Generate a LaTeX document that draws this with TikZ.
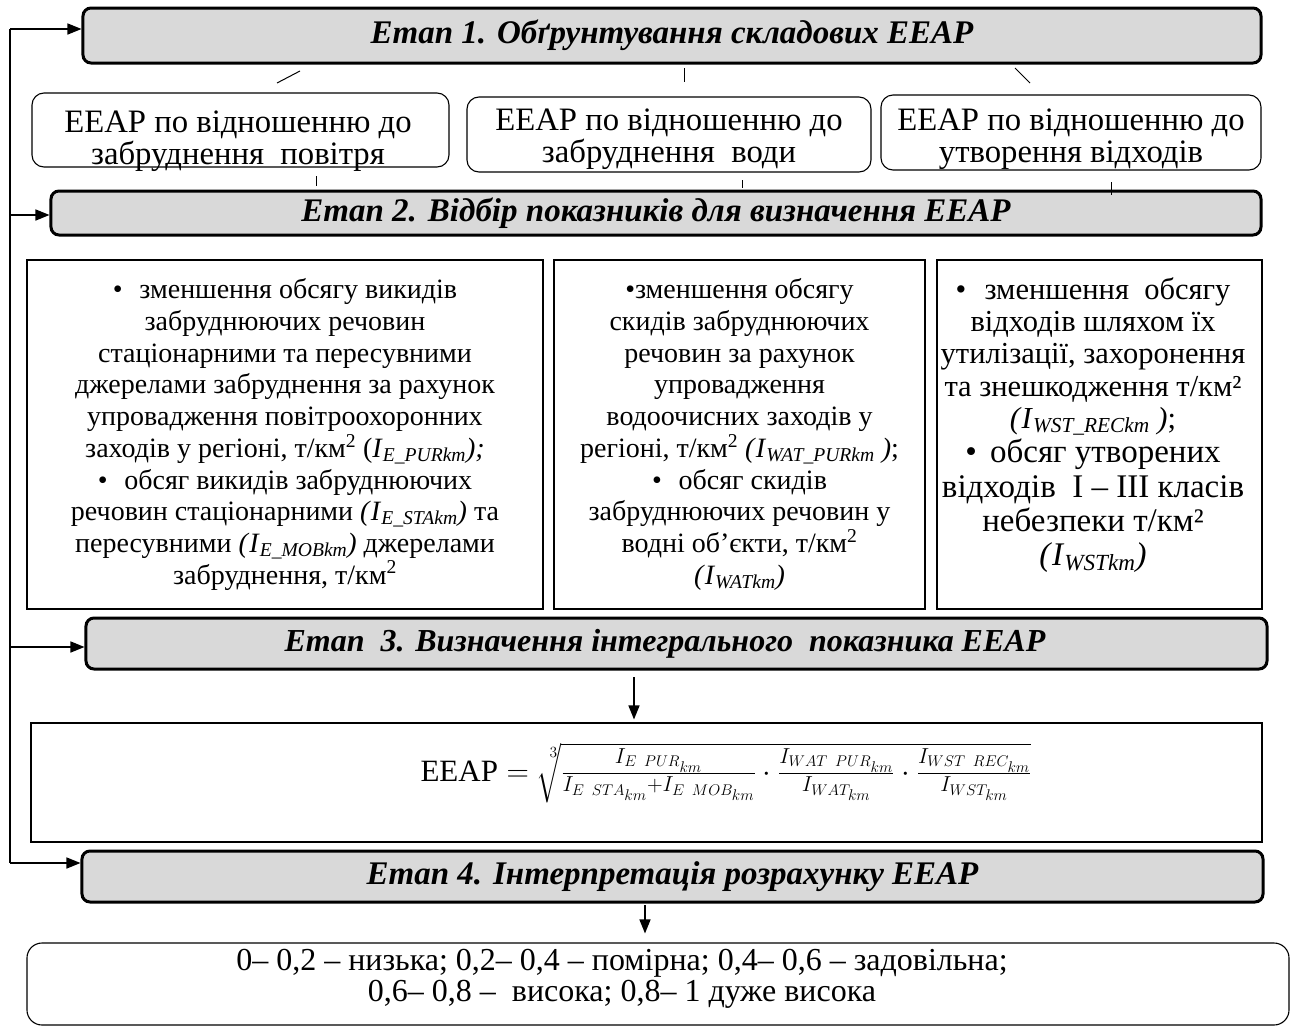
\RequirePackage{fix-cm}
\documentclass[tikz,border=0pt]{standalone}
\usepackage{amsmath}
\usepackage{fontspec}
\setmainfont{LiberationSerif}[Extension=.ttf, UprightFont=*-Regular, BoldFont=*-Bold, ItalicFont=*-Italic, BoldItalicFont=*-BoldItalic]
\usetikzlibrary{arrows.meta}
\newcommand\idx[1]{\textit{I}\textsubscript{\textit{#1}}}
\newcommand\bodyfont{\fontsize{28bp}{31.7bp}\selectfont}
\newcommand\stagefont{\fontsize{33bp}{36bp}\selectfont\bfseries\itshape}
\newcommand\csmall{\fontsize{30.5bp}{32.3bp}\selectfont}
\newcommand\cbig{\fontsize{33bp}{34.3bp}\selectfont}
\newcommand\efont{\fontsize{32.7bp}{32.3bp}\selectfont}
\newcommand\gfont{\fontsize{32bp}{31bp}\selectfont}
\begin{document}
\begin{tikzpicture}[x=1bp,y=-1bp,
  stage/.style={draw, line width=3bp, rounded corners=8bp, fill=black!15, inner sep=0pt, font=\stagefont},
  ebox/.style={draw, line width=1.1bp, rounded corners=12bp, inner sep=0pt},
  etext/.style={inner sep=0pt, align=center, font=\efont},
  ibox/.style={draw, line width=1.1bp, inner sep=0pt, align=center, font=\bodyfont},
  itext/.style={inner sep=0pt, align=center, font=\csmall},
  fbox/.style={draw, line width=1.1bp, inner sep=0pt},
  gbox/.style={draw, line width=1.1bp, rounded corners=15bp, inner sep=0pt},
  gtext/.style={inner sep=0pt, align=center, font=\gfont},
  arr/.style={line width=1.5bp, -{Triangle[length=14bp,width=11bp]}},
  fb/.style={line width=1.5bp},
  tick/.style={line width=1bp}]
\useasboundingbox (0,0) rectangle (1295,1027);

% stage boxes
\node[stage, minimum width=1178bp, minimum height=55bp] (s1) at (672,35.5) {Етап 1. Обґрунтування складових ЕЕАР};
\node[stage, minimum width=1210bp, minimum height=44bp] (s2) at (656,213) {Етап 2. Відбір показників для визначення ЕЕАР};
\node[stage, minimum width=1181bp, minimum height=51bp] (s3) at (676.5,643.5) {\fontsize{32bp}{36bp}\selectfont Етап\ \ 3. Визначення інтегрального\ \ показника ЕЕАР\rule{23bp}{0pt}};
\node[stage, minimum width=1181bp, minimum height=51bp] (s4) at (672.5,876.5) {Етап 4. Інтерпретація розрахунку ЕЕАР};

% EEAP component boxes
\node[ebox, minimum width=417bp, minimum height=74bp] (b1) at (240.5,130) {};
\node[ebox, minimum width=404bp, minimum height=75bp] (b2) at (669,134.5) {};
\node[ebox, minimum width=380bp, minimum height=75bp] (b3) at (1071,132.5) {};
\node[etext] (b1t) at (238,141) {ЕЕАР по відношенню до\\забруднення\ \ повітря};
\node[etext] (b2t) at (669,139) {ЕЕАР по відношенню до\\забруднення\ \ води};
\node[etext] (b3t) at (1071,139) {ЕЕАР по відношенню до\\утворення відходів};

% stub lines
\coordinate (t1a) at (277,83); \coordinate (t1b) at (300,71);
\coordinate (t2a) at (684,68); \coordinate (t2b) at (684,82);
\coordinate (t3a) at (1015,68); \coordinate (t3b) at (1030,83);
\coordinate (u1a) at (316,176); \coordinate (u1b) at (316,186);
\coordinate (u2a) at (742,180); \coordinate (u2b) at (742,188);
\coordinate (u3a) at (1111,182); \coordinate (u3b) at (1111,195);
\draw[tick] (t1a) -- (t1b);
\draw[tick] (t2a) -- (t2b);
\draw[tick] (t3a) -- (t3b);
\draw[tick] (u1a) -- (u1b);
\draw[tick] (u2a) -- (u2b);
\draw[tick] (u3a) -- (u3b);

% indicator boxes
\node[ibox, minimum width=516bp, minimum height=349bp] (ia) at (285,434.5) {%
•\hspace{0.6em}зменшення обсягу викидів\\
забруднюючих речовин\\
стаціонарними та пересувними\\
джерелами забруднення за рахунок\\
упровадження повітроохоронних\\
заходів у регіоні, т/км\textsuperscript{2} (\idx{E\_PURkm}\textit{);}\\
•\hspace{0.6em}обсяг викидів забруднюючих\\
речовин стаціонарними \textit{(}\idx{E\_STAkm}\textit{)} та\\
пересувними \textit{(}\idx{E\_MOBkm}\textit{)} джерелами\\
забруднення, т/км\textsuperscript{2}};
\node[ibox, minimum width=371bp, minimum height=349bp] (ib) at (739.5,434.5) {%
•зменшення обсягу\\
скидів забруднюючих\\
речовин за рахунок\\
упровадження\\
водоочисних заходів у\\
регіоні, т/км\textsuperscript{2} \textit{(}\idx{WAT\_PURkm}\textit{ )};\\
•\hspace{0.6em}обсяг скидів\\
забруднюючих речовин у\\
водні об’єкти, т/км\textsuperscript{2}\\
\textit{(}\idx{WATkm}\textit{)}};
\node[ibox, minimum width=325bp, minimum height=349bp] (ic) at (1099.5,434.5) {};
\node[itext] (ict) at (1093,425) {%
•\hspace{0.6em}зменшення\ \ обсягу\\
відходів шляхом їх\\
утилізації, захоронення\\
та знешкодження т/км²\\
\textit{(}\idx{WST\_RECkm}\textit{ )};\\[2bp]
\cbig •\hspace{0.4em}обсяг утворених\\[2bp]
\cbig відходів\ \ I – III класів\\[2bp]
\cbig небезпеки т/км²\\[2bp]
\cbig\textit{(}\idx{WSTkm}\textit{)}};

% formula box
\node[fbox, minimum width=1231bp, minimum height=119bp] (f) at (646.5,782.5) {};
\node[inner sep=0pt, font=\fontsize{31bp}{36bp}\selectfont] (ft) at (726,773) {$\mathrm{EEAP}=\sqrt[\leftroot{-2}\uproot{8}3]{\frac{I_{E\ PUR_{km}}}{I_{E\ STA_{km}}+I_{E\ MOB_{km}}}\cdot\frac{I_{WAT\ PUR_{km}}}{I_{WAT_{km}}}\cdot\frac{I_{WST\ REC_{km}}}{I_{WST_{km}}}}$};

% final box
\node[gbox, minimum width=1262bp, minimum height=82bp] (g) at (658,984) {};
\node[gtext] (gt) at (622,979) {0– 0,2 – низька; 0,2– 0,4 – помірна; 0,4– 0,6 – задовільна;\\0,6– 0,8 –\ \ висока; 0,8– 1 дуже висока};

% feedback line
\coordinate (fbtop) at (10,29);
\coordinate (fb2) at (10,215);
\coordinate (fb3) at (10,647);
\coordinate (fbbot) at (10,863);
\draw[fb] (fbtop) -- (fbbot);
\draw[arr] (fbtop) -- (fbtop -| s1.west);
\draw[arr] (fb2) -- (fb2 -| s2.west);
\draw[arr] (fb3) -- (fb3 -| s3.west);
\draw[arr] (fbbot) -- (fbbot -| s4.west);

% down arrows
\coordinate (a3) at (634,677);
\draw[arr, shorten >=3bp] (a3) -- (a3 |- f.north);
\coordinate (a4) at (645,905);
\draw[arr, shorten >=9bp] (a4) -- (a4 |- g.north);
\end{tikzpicture}
\end{document}
